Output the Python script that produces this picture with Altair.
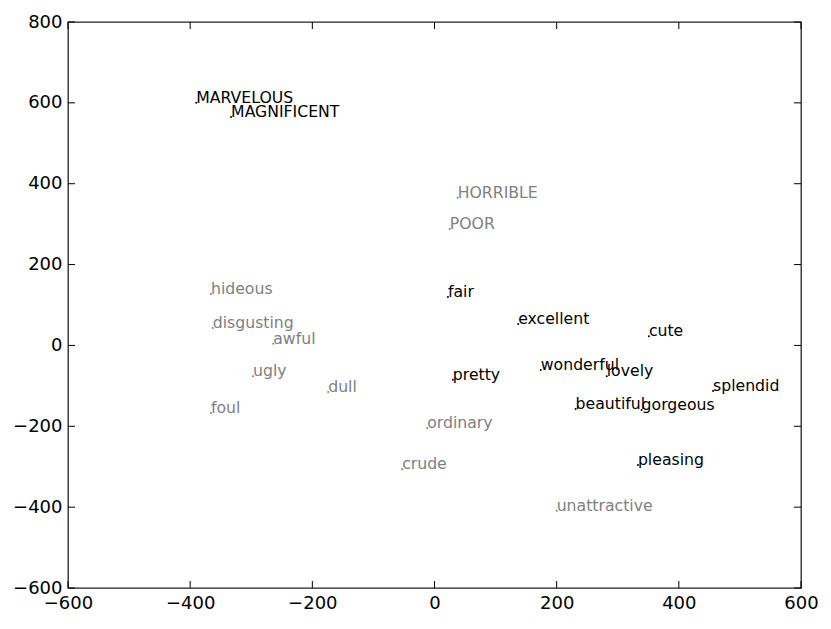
import altair as alt
import pandas as pd

words = ["MARVELOUS", "MAGNIFICENT", "HORRIBLE", "POOR", "hideous", "disgusting",
         "awful", "ugly", "dull", "foul", "fair", "excellent", "cute", "wonderful",
         "lovely", "pretty", "splendid", "beautiful", "gorgeous", "ordinary",
         "crude", "pleasing", "unattractive"]
xs = [-390, -333, 38, 25, -366, -363, -264, -297, -174, -366, 22, 137, 351, 174,
      282, 30, 456, 231, 339, -12, -53, 333, 200]
ys = [600, 565, 365, 288, 127, 43, 4, -76, -115, -167, 120, 53, 23, -61,
      -76, -85, -113, -157, -160, -204, -306, -296, -409]
sentiment = ["pos", "pos", "neg", "neg", "neg", "neg", "neg", "neg", "neg", "neg",
             "pos", "pos", "pos", "pos", "pos", "pos", "pos", "pos", "pos", "neg",
             "neg", "pos", "neg"]

x_ticks = [-600, -400, -200, 0, 200, 400, 600]
y_ticks = [-600, -400, -200, 0, 200, 400, 600, 800]

df = pd.DataFrame({"word": words, "x": xs, "y": ys, "s": sentiment})
xt = pd.DataFrame({"t": x_ticks})
yt = pd.DataFrame({"t": y_ticks})

W, H = 733, 566
FONT = "DejaVu Sans"

xscale = alt.Scale(domain=[-600, 600], nice=False, zero=False)
yscale = alt.Scale(domain=[-600, 800], nice=False, zero=False)
cscale = alt.Scale(domain=["pos", "neg"], range=["#000000", "#808080"])

xaxis = alt.Axis(values=x_ticks, tickSize=0, domain=False, grid=False,
                 labelFontSize=18, labelFont=FONT, labelColor="#000000",
                 labelPadding=6, title=None, labelFlush=False)
yaxis = alt.Axis(values=y_ticks, tickSize=0, domain=False, grid=False,
                 labelFontSize=18, labelFont=FONT, labelColor="#000000",
                 labelPadding=6, title=None, labelFlush=False)

base = alt.Chart(df)

points = base.mark_circle(size=4, opacity=1).encode(
    x=alt.X("x:Q", scale=xscale, axis=xaxis),
    y=alt.Y("y:Q", scale=yscale, axis=yaxis),
    color=alt.Color("s:N", scale=cscale, legend=None),
)

labels = base.mark_text(align="left", baseline="alphabetic", font=FONT,
                        fontSize=15.7, dx=0).encode(
    x=alt.X("x:Q", scale=xscale),
    y=alt.Y("y:Q", scale=yscale),
    text="word:N",
    color=alt.Color("s:N", scale=cscale, legend=None),
)

tick_len = 7
bottom_ticks = alt.Chart(xt).mark_rule(color="#000000", strokeWidth=1).encode(
    x=alt.X("t:Q", scale=xscale), y=alt.value(H), y2=alt.value(H - tick_len))
top_ticks = alt.Chart(xt).mark_rule(color="#000000", strokeWidth=1).encode(
    x=alt.X("t:Q", scale=xscale), y=alt.value(0), y2=alt.value(tick_len))
left_ticks = alt.Chart(yt).mark_rule(color="#000000", strokeWidth=1).encode(
    y=alt.Y("t:Q", scale=yscale), x=alt.value(0), x2=alt.value(tick_len))
right_ticks = alt.Chart(yt).mark_rule(color="#000000", strokeWidth=1).encode(
    y=alt.Y("t:Q", scale=yscale), x=alt.value(W), x2=alt.value(W - tick_len))

chart = alt.layer(points, labels, bottom_ticks, top_ticks, left_ticks, right_ticks).properties(
    width=W, height=H,
    autosize=alt.AutoSizeParams(type="none"),
    padding={"left": 60, "top": 14, "right": 22, "bottom": 33},
    background="white",
).configure_view(stroke="#222222", strokeWidth=1.3)

chart.save("out.html", embed_options={"renderer": "svg", "actions": False})
